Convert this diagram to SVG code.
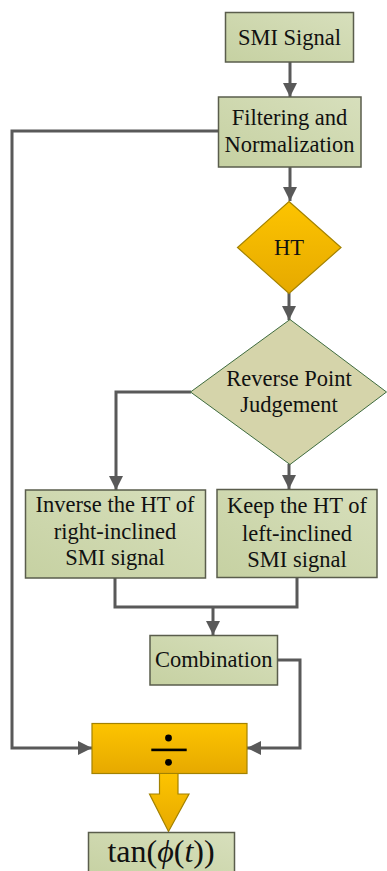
<svg xmlns="http://www.w3.org/2000/svg" width="387" height="871" viewBox="0 0 387 871">
<defs>
<linearGradient id="gGreen" x1="0" y1="1" x2="1" y2="0">
<stop offset="0" stop-color="#C6D1A2"/>
<stop offset="1" stop-color="#D7DFBC"/>
</linearGradient>
<linearGradient id="gOrange" x1="0" y1="0" x2="0" y2="1">
<stop offset="0" stop-color="#FDC400"/>
<stop offset="1" stop-color="#E6A900"/>
</linearGradient>
<marker id="arr" viewBox="0 0 14 14" refX="14" refY="7" markerWidth="14" markerHeight="14" markerUnits="userSpaceOnUse" orient="auto">
<path d="M0,0 L14,7 L0,14 z" fill="#595959"/>
</marker>
<style>
.box{fill:url(#gGreen);stroke:#5A5D4C;stroke-width:1.5}
.orange{fill:url(#gOrange);stroke:#A38200;stroke-width:1.2}
.dia{fill:#D5D4AA;stroke:#3E6B3E;stroke-width:1}
.t{font-family:"Liberation Serif","Times New Roman",serif;font-size:22.5px;fill:#111;text-anchor:middle}
.c{fill:none;stroke:#595959;stroke-width:3}
</style>
</defs>
<g id="connectors">
<path class="c" d="M290,62 L290,97" marker-end="url(#arr)"/>
<path class="c" d="M290,167 L290,201" marker-end="url(#arr)"/>
<path class="c" d="M289,293 L289,320" marker-end="url(#arr)"/>
<path class="c" d="M191,392 L116,392 L116,490" marker-end="url(#arr)"/>
<path class="c" d="M289,464 L289,489" marker-end="url(#arr)"/>
<path class="c" d="M115,578 L115,607 L297,607 L297,577"/>
<path class="c" d="M213,607 L213,635" marker-end="url(#arr)"/>
<path class="c" d="M218,131 L12,131 L12,748 L92,748" marker-end="url(#arr)"/>
<path class="c" d="M277,660 L300,660 L300,748 L247,748" marker-end="url(#arr)"/>
</g>
<g id="smi-signal">
<rect class="box" x="225.5" y="12.5" width="128" height="49.5"/>
<text class="t" x="289.5" y="45">SMI Signal</text>
</g>
<g id="filtering">
<rect class="box" x="218.5" y="97" width="142.5" height="70"/>
<text class="t" x="289.5" y="125">Filtering and</text>
<text class="t" x="289.5" y="152">Normalization</text>
</g>
<g id="ht">
<polygon class="orange" points="289,201.5 341,247.5 289,293.5 237.5,247.5"/>
<text class="t" x="289" y="255">HT</text>
</g>
<g id="reverse-point">
<polygon class="dia" points="290,319.5 386.5,392 290,464.5 190.5,392"/>
<text class="t" x="289" y="386">Reverse Point</text>
<text class="t" x="289" y="411.5">Judgement</text>
</g>
<g id="inverse">
<rect class="box" x="25.5" y="490" width="180" height="88"/>
<text class="t" x="115" y="512">Inverse the HT of</text>
<text class="t" x="115" y="539">right-inclined</text>
<text class="t" x="115" y="565">SMI signal</text>
</g>
<g id="keep">
<rect class="box" x="217" y="489.5" width="160" height="88"/>
<text class="t" x="297" y="513">Keep the HT of</text>
<text class="t" x="297" y="540.5">left-inclined</text>
<text class="t" x="297" y="566.5">SMI signal</text>
</g>
<g id="combination">
<rect class="box" x="150" y="635.5" width="127.5" height="49.5"/>
<text class="t" x="213.8" y="666.5">Combination</text>
</g>
<g id="divide">
<rect class="orange" x="92" y="723.5" width="155" height="50"/>
<circle cx="168.5" cy="738" r="3.4" fill="#000"/>
<circle cx="168.5" cy="762.3" r="3.4" fill="#000"/>
<rect x="151.3" y="748.6" width="35.4" height="2.6" fill="#000"/>
</g>
<g id="block-arrow">
<polygon class="orange" points="159.5,773.5 178,773.5 178,794 189,794 168.5,831.5 149.5,794 159.5,794"/>
</g>
<g id="tan">
<rect class="box" x="88.5" y="832.5" width="146" height="45"/>
<text class="t" style="font-size:32px" x="161" y="861.5">tan(<tspan font-style="italic">ϕ</tspan>(<tspan font-style="italic">t</tspan>))</text>
</g>
</svg>
